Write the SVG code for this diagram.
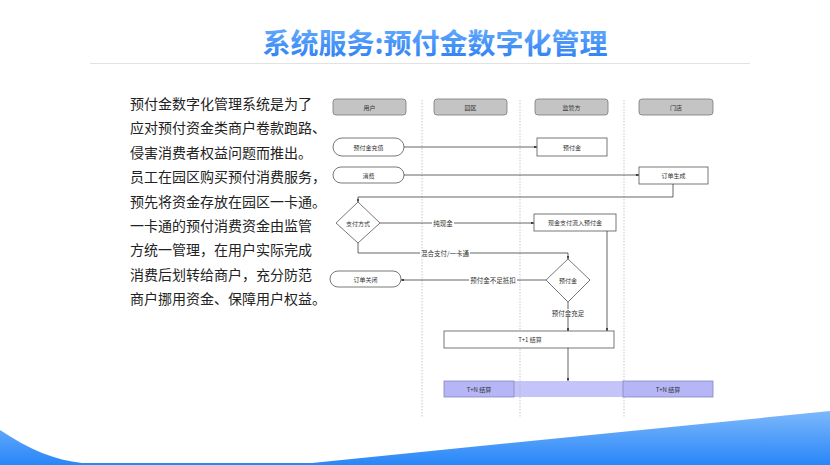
<svg xmlns="http://www.w3.org/2000/svg" width="830" height="465" viewBox="0 0 830 465">
<defs>
<linearGradient id="tg" x1="0" y1="0" x2="0" y2="1"><stop offset="0" stop-color="#6cb2ff"/><stop offset="1" stop-color="#2a7cf2"/></linearGradient>
<linearGradient id="wg" x1="0" y1="0" x2="0" y2="1"><stop offset="0" stop-color="#7db8fb"/><stop offset="1" stop-color="#2886f8"/></linearGradient>
<marker id="ah" viewBox="0 0 6 6" refX="6" refY="3" markerWidth="4" markerHeight="4" orient="auto"><path d="M0,0 L6,3 L0,6 Z" fill="#222"/></marker>
<style>
.t{font-family:"Noto Sans CJK SC","Noto Sans",sans-serif}
.para{font-size:14px;fill:#222}
.hd{fill:#c4c4c4;stroke:#7a7a7a;stroke-width:0.8}
.nd{fill:#fff;stroke:#555;stroke-width:0.8}
.s{font-size:6px;fill:#333;text-anchor:middle;dominant-baseline:central}
.lb{font-size:6.5px;fill:#333;text-anchor:middle;dominant-baseline:central}
.ln{stroke:#b0b0b0;stroke-width:0.7;stroke-dasharray:1.5,1.5;fill:none}
.c{stroke:#222;stroke-width:0.7;fill:none;marker-end:url(#ah)}
.tn{fill:#b6b6f6;stroke:#8585c4;stroke-width:0.8}
</style>
</defs>
<rect width="830" height="465" fill="#fff"/>
<text class="t" x="435" y="54" font-size="28" font-weight="bold" fill="url(#tg)" text-anchor="middle">系统服务:预付金数字化管理</text>
<line x1="90" y1="63.5" x2="750" y2="63.5" stroke="#e2e2e2" stroke-width="1.2"/>
<g class="t para">
<text x="130" y="109">预付金数字化管理系统是为了</text>
<text x="130" y="133.4">应对预付资金类商户卷款跑路、</text>
<text x="130" y="157.8">侵害消费者权益问题而推出。</text>
<text x="130" y="182.2">员工在园区购买预付消费服务，</text>
<text x="130" y="206.6">预先将资金存放在园区一卡通。</text>
<text x="130" y="231">一卡通的预付消费资金由监管</text>
<text x="130" y="255.4">方统一管理，在用户实际完成</text>
<text x="130" y="279.8">消费后划转给商户，充分防范</text>
<text x="130" y="304.2">商户挪用资金、保障用户权益。</text>
</g>
<g id="lanes">
<line class="ln" x1="422" y1="100" x2="422" y2="418"/>
<line class="ln" x1="520" y1="100" x2="520" y2="418"/>
<line class="ln" x1="624" y1="100" x2="624" y2="418"/>
</g>
<g id="h-user"><rect class="hd" x="333" y="99" width="73" height="16" rx="3"/><text class="t s" x="369.5" y="107">用户</text></g>
<g id="h-park"><rect class="hd" x="434" y="99" width="73" height="16" rx="3"/><text class="t s" x="470.5" y="107">园区</text></g>
<g id="h-reg"><rect class="hd" x="535" y="99" width="73" height="16" rx="3"/><text class="t s" x="571.5" y="107">监管方</text></g>
<g id="h-store"><rect class="hd" x="639" y="99" width="74" height="16" rx="3"/><text class="t s" x="676" y="107">门店</text></g>
<g id="n-recharge"><rect class="nd" x="333" y="138" width="71" height="18" rx="9"/><text class="t s" x="368.5" y="147">预付金充值</text></g>
<g id="n-prepaid"><rect class="nd" x="537" y="138" width="70" height="18"/><text class="t s" x="572" y="147">预付金</text></g>
<g id="n-consume"><rect class="nd" x="333" y="167" width="71" height="16" rx="8"/><text class="t s" x="368.5" y="175">消费</text></g>
<g id="n-order"><rect class="nd" x="639" y="167" width="69" height="17"/><text class="t s" x="673.5" y="175.5">订单生成</text></g>
<g id="n-paytype"><polygon class="nd" points="358,202 380,223 358,243 336,223"/><text class="t s" x="358" y="223">支付方式</text></g>
<g id="n-cash"><rect class="nd" x="534" y="214" width="82" height="17"/><text class="t s" x="575" y="222.5">现金支付流入预付金</text></g>
<g id="n-check"><polygon class="nd" points="568,259 590,280 568,302 546,280"/><text class="t s" x="568" y="280">预付金</text></g>
<g id="n-close"><rect class="nd" x="330" y="271" width="71" height="16" rx="8"/><text class="t s" x="365.5" y="279">订单关闭</text></g>
<g id="n-t1"><rect class="nd" x="444" y="331" width="170" height="17"/><text class="t s" x="530" y="339.5">T+1 结算</text></g>
<g id="n-tn">
<rect x="514" y="381" width="109" height="16" fill="#c4c4fa"/>
<rect class="tn" x="444" y="381" width="70" height="16"/>
<rect class="tn" x="623" y="381" width="90" height="16"/>
<text class="t s" x="479" y="389">T+N 结算</text>
<text class="t s" x="668" y="389">T+N 结算</text>
<line class="ln" x1="520" y1="381" x2="520" y2="397"/>
</g>
<g id="connectors">
<path class="c" d="M404,147 H537"/>
<path class="c" d="M404,175 H639"/>
<path class="c" d="M673,184 V197 H358 V202"/>
<path class="c" d="M380,223 H534"/>
<path class="c" d="M358,243 V253 H568 V259"/>
<path class="c" d="M546,280 H401"/>
<path class="c" d="M568,302 V331"/>
<path class="c" d="M607,231 V331"/>
<path class="c" d="M568,348 V381"/>
<rect x="432" y="219" width="22" height="8" fill="#fff"/>
<text class="t lb" x="443" y="223">纯现金</text>
<rect x="420" y="249" width="50" height="8" fill="#fff"/>
<text class="t lb" x="445" y="253">混合支付/一卡通</text>
<rect x="469" y="276" width="48" height="8" fill="#fff"/>
<text class="t lb" x="493" y="280">预付金不足抵扣</text>
<rect x="551" y="309" width="34" height="8" fill="#fff"/>
<text class="t lb" x="568" y="313">预付金充足</text>
</g>
<path d="M0,430 C30,450 55,460 82,463 L312,463 L830,411 L830,465 L0,465 Z" fill="url(#wg)"/>
</svg>
